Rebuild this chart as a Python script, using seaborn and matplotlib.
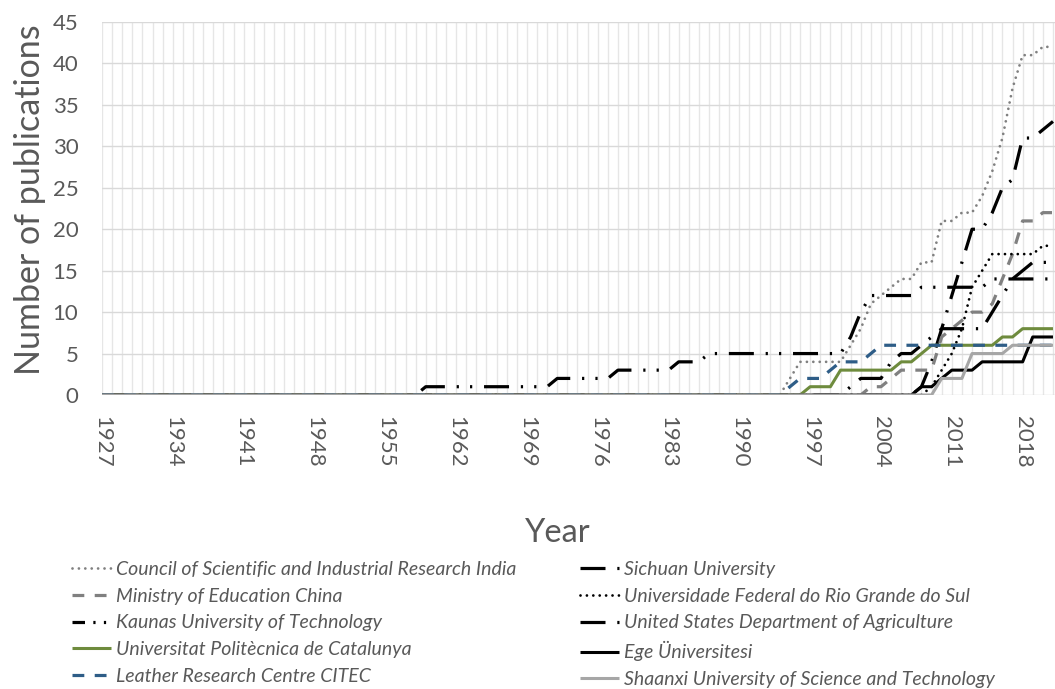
import matplotlib
matplotlib.use("Agg")
import matplotlib.pyplot as plt
from matplotlib.lines import Line2D
import seaborn as sns
import pandas as pd

# categories: one point per year
years = list(range(1927, 2022))
tick_years = list(range(1927, 2022, 7))

# cumulative publication counts. The early block is 1927-1989, the recent block 1990-2021.
kaunas_1927_1989 = [0] * 32 + [1] * 13 + [2] * 6 + [3] * 6 + [4] * 3 + [5] * 3
kaunas_1990_2021 = [5, 5, 5, 5, 5, 5, 5, 5, 5, 5, 5, 7, 10, 12, 12, 12, 12, 12, 13, 13,
                    13, 13, 13, 13, 13, 14, 14, 14, 14, 14, 14, 14]
csir = [0, 0, 0, 0, 0, 2, 4, 4, 4, 4, 4, 6, 8, 11, 12, 13, 14, 14, 16, 16,
        21, 21, 22, 22, 24, 27, 31, 37, 41, 41, 42, 42]
ministry = [0] * 13 + [1, 1, 2, 3, 3, 3, 3, 7, 8, 9, 10, 10, 11, 14, 17, 21, 21, 22, 22]
upc = [0] * 7 + [1, 1, 1, 3, 3, 3, 3, 3, 3, 4, 4, 5, 6, 6, 6, 6, 6, 6, 6, 7, 7, 8, 8, 8, 8]
citec = [0] * 5 + [1, 2, 2, 2, 3, 4, 4, 4, 5, 6] + [6] * 17
sichuan = [0] * 18 + [1, 4, 8, 12, 16, 20, 20, 22, 25, 26, 31, 31, 32, 33]
ufrgs = [0] * 19 + [1, 3, 5, 8, 13, 15, 17, 17, 17, 17, 17, 18, 18]
usda = [0] * 11 + [1, 2, 2, 2, 4, 5, 5, 6, 7, 8, 8, 8, 8, 8, 10, 12, 14, 15, 16, 16, 16]
ege = [0] * 18 + [1, 1, 2, 3, 3, 3, 4, 4, 4, 4, 4, 7, 7, 7]
shaanxi = [0] * 20 + [2, 2, 2, 5, 5, 5, 5, 6, 6, 6, 6, 6]

zeros_1927_1989 = [0] * 63
df = pd.DataFrame({
    "Year": years,
    "Council of Scientific and Industrial Research India": zeros_1927_1989 + csir,
    "Sichuan University": zeros_1927_1989 + sichuan,
    "Ministry of Education China": zeros_1927_1989 + ministry,
    "Universidade Federal do Rio Grande do Sul": zeros_1927_1989 + ufrgs,
    "Kaunas University of Technology": kaunas_1927_1989 + kaunas_1990_2021,
    "United States Department of Agriculture": zeros_1927_1989 + usda,
    "Universitat Politècnica de Catalunya": zeros_1927_1989 + upc,
    "Ege Üniversitesi": zeros_1927_1989 + ege,
    "Leather Research Centre CITEC": zeros_1927_1989 + citec,
    "Shaanxi University of Science and Technology": zeros_1927_1989 + shaanxi,
})

dot = (0, (0.01, 4.6))
dash = (0, (8.5, 7.5))
long_dash_dot = (0, (18, 8.5, 1.6, 8.5))
long_dash_dot_dot = (0, (18, 8.5, 1.6, 8, 1.6, 8.5))

# name -> (colour, linestyle, width, capstyle)
styles = {
    "Council of Scientific and Industrial Research India": ("#808080", dot, 2.0, "round"),
    "Sichuan University": ("#000000", long_dash_dot, 2.3, "butt"),
    "Ministry of Education China": ("#808080", dash, 2.3, "butt"),
    "Universidade Federal do Rio Grande do Sul": ("#000000", dot, 2.0, "round"),
    "Kaunas University of Technology": ("#000000", long_dash_dot_dot, 2.3, "butt"),
    "United States Department of Agriculture": ("#000000", long_dash_dot, 2.3, "butt"),
    "Universitat Politècnica de Catalunya": ("#6e8b3d", "-", 2.2, "butt"),
    "Ege Üniversitesi": ("#000000", "-", 2.2, "butt"),
    "Leather Research Centre CITEC": ("#2e5d87", dash, 2.3, "butt"),
    "Shaanxi University of Science and Technology": ("#a6a6a6", "-", 2.2, "butt"),
}

sns.set_style("white")
plt.rcParams["font.family"] = ["Lato", "DejaVu Sans"]
plt.rcParams["lines.scale_dashes"] = False
text_color = "#595959"

fig = plt.figure(figsize=(10.55, 6.89), dpi=100)
ax = fig.add_axes([102 / 1055, 1 - 395 / 689, (1055 - 102) / 1055, (395 - 22) / 689])

handles = {}
for name, (color, ls, lw, cap) in styles.items():
    sns.lineplot(data=df, x="Year", y=name, ax=ax, color=color, linewidth=lw,
                 linestyle=ls, dash_capstyle=cap, solid_capstyle="butt",
                 label=name, legend=False)
    handles[name] = ax.lines[-1]

# legend swatch for Kaunas is too short for the full pattern, so use a compact one there
kaunas_key = Line2D([], [], color="#000000", linewidth=2.3,
                    linestyle=(0, (9, 6, 1.6, 6, 1.6, 6)), dash_capstyle="butt")

ax.set_xlim(1927, 2021.2)
ax.set_ylim(0, 45)
ax.set_yticks(range(0, 46, 5))
ax.set_xticks(tick_years)
ax.set_xticklabels([str(y) for y in tick_years], rotation=270)
ax.set_xticks(years, minor=True)
ax.grid(axis="y", color="#d9d9d9", linewidth=1.0)
ax.grid(axis="x", which="both", color="#e6e6e6", linewidth=1.0)
ax.set_axisbelow(True)
for s in ax.spines.values():
    s.set_visible(False)
ax.tick_params(axis="y", length=0, pad=17, labelsize=16, labelcolor=text_color)
ax.tick_params(axis="x", which="both", length=0, pad=15, labelsize=16, labelcolor=text_color)
ax.set_xlabel("")
ax.set_ylabel("")

fig.text(30 / 1055, 1 - 200 / 689, "Number of publications", rotation=90,
         ha="center", va="center", fontsize=24.5, color=text_color)
fig.text(558 / 1055, 1 - 533 / 689, "Year", ha="center", va="center",
         fontsize=23.5, color=text_color)

left_names = ["Council of Scientific and Industrial Research India",
              "Ministry of Education China",
              "Kaunas University of Technology",
              "Universitat Politècnica de Catalunya",
              "Leather Research Centre CITEC"]
right_names = ["Sichuan University",
               "Universidade Federal do Rio Grande do Sul",
               "United States Department of Agriculture",
               "Ege Üniversitesi",
               "Shaanxi University of Science and Technology"]
left_handles = [kaunas_key if n == "Kaunas University of Technology" else handles[n]
                for n in left_names]

leg_kw = dict(loc="upper left", frameon=False, borderpad=0, borderaxespad=0,
              handlelength=2.0, handletextpad=0.25, labelspacing=0.5,
              prop={"style": "italic", "size": 14}, labelcolor=text_color)
fig.legend(handles=left_handles, labels=left_names,
           bbox_to_anchor=(72 / 1055, 1 - 561 / 689), **leg_kw)
fig.legend(handles=[handles[n] for n in right_names], labels=right_names,
           bbox_to_anchor=(580 / 1055, 1 - 561 / 689), **leg_kw)

fig.savefig("out.png", dpi=100)
plt.close(fig)
